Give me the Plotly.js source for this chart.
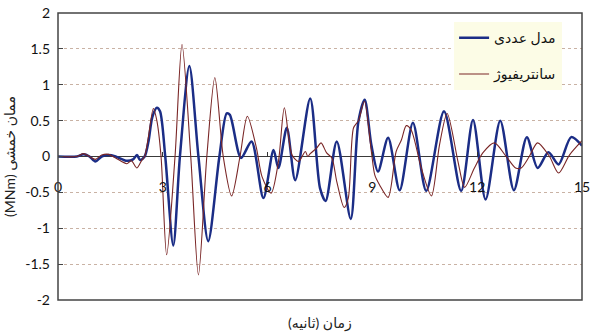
<!DOCTYPE html>
<html><head><meta charset="utf-8">
<script src="https://cdn.plot.ly/plotly-3.0.1.min.js"></script>
<style>body{margin:0;padding:0;background:#fff}#chart{width:590px;height:336px}</style>
</head><body><div id="chart"></div>
<script>
// Numerical model (مدل عددی)
const timeModel = [0, 0.54, 0.73, 0.9, 1.07, 1.25, 1.45, 1.65, 1.97, 2.15, 2.26, 2.35, 2.48, 2.59, 2.70, 2.83, 2.92, 3.07, 3.30, 3.49, 3.76, 4.02, 4.30, 4.62, 4.83, 4.92, 5.24, 5.54, 5.88, 6.17, 6.31, 6.55, 6.79, 7.22, 7.50, 7.66, 7.98, 8.38, 8.60, 8.78, 8.97, 9.16, 9.45, 9.78, 10.16, 10.54, 11.05, 11.54, 11.88, 12.24, 12.66, 13.05, 13.42, 13.73, 14.04, 14.33, 14.69, 15.0];
const momentModel = [0, 0, 0.03, 0.0, -0.07, 0.0, 0.02, 0.0, -0.06, -0.04, 0.02, -0.05, 0.0, 0.21, 0.55, 0.68, 0.63, 0.0, -1.24, 0.0, 1.26, 0.0, -1.18, 0.0, 0.60, 0.58, -0.02, 0.21, -0.58, 0.09, -0.16, 0.40, -0.33, 0.81, -0.44, -0.62, 0.21, -0.87, 0.49, 0.79, 0.16, -0.21, 0.26, -0.47, 0.47, -0.48, 0.63, -0.48, 0.51, -0.60, 0.50, -0.47, 0.27, -0.16, 0.06, -0.11, 0.27, 0.15];

// Centrifuge test (سانتریفیوژ)
const timeCentrifuge = [0, 0.54, 0.73, 0.9, 1.07, 1.25, 1.45, 1.65, 1.97, 2.1, 2.26, 2.40, 2.48, 2.59, 2.73, 2.83, 2.95, 3.11, 3.35, 3.55, 3.80, 4.02, 4.26, 4.49, 4.73, 4.97, 5.21, 5.42, 5.68, 5.84, 6.10, 6.31, 6.48, 6.70, 6.89, 7.08, 7.15, 7.22, 7.41, 7.53, 7.69, 7.84, 7.98, 8.19, 8.31, 8.46, 8.60, 8.77, 8.97, 9.07, 9.21, 9.45, 9.68, 9.83, 9.97, 10.11, 10.40, 10.69, 10.92, 11.14, 11.45, 11.64, 11.92, 12.16, 12.49, 12.83, 13.10, 13.26, 13.49, 13.73, 14.07, 14.33, 14.64, 15.0];
const momentCentrifuge = [0, 0, 0.04, 0.0, -0.04, 0.02, 0.03, -0.02, -0.10, -0.06, -0.16, -0.05, 0.0, 0.28, 0.67, 0.50, 0.0, -1.37, 0.0, 1.56, 0.0, -1.65, 0.0, 1.10, 0.0, -0.55, 0.0, 0.56, 0.12, -0.28, -0.51, -0.07, 0.68, 0.02, -0.07, 0.07, 0.0, 0.04, 0.12, 0.19, 0.05, -0.02, -0.35, -0.71, -0.58, 0.40, 0.50, 0.77, 0.07, -0.26, -0.40, -0.57, 0.07, 0.23, 0.43, 0.37, -0.16, -0.55, 0.16, 0.60, -0.07, -0.43, -0.16, 0.05, 0.19, 0.0, -0.16, -0.16, 0.0, 0.19, 0.0, -0.23, 0.02, 0.22];

const xTicks = [0, 3, 6, 9, 12, 15];
const yTicks = [-2, -1.5, -1, -0.5, 0, 0.5, 1, 1.5, 2];
const yTickLabels = ['-2', '-1.5', '-1', '-0.5', '0', '0.5', '1', '1.5', '2'];
const seriesNames = ['مدل عددی', 'سانتریفیوژ'];
const yTitle = 'ممان خمشی (MNm)';
const xTitle = 'زمان (ثانیه)';

const rtl = s => '\u202B' + s + '\u202C';
const FONT = 'Lato, "DejaVu Sans", sans-serif';

const traces = [
  {x: timeModel, y: momentModel, name: rtl(seriesNames[0]), type: 'scatter', mode: 'lines',
   line: {color: '#1b2d86', width: 2.5, shape: 'spline', smoothing: 0.8}, legendgroup: 'a'},
  {x: timeCentrifuge, y: momentCentrifuge, name: rtl(seriesNames[1]), type: 'scatter', mode: 'lines',
   line: {color: '#7a2626', width: 1.1, shape: 'spline', smoothing: 0.8}, legendgroup: 'b'}
];

const layout = {
  width: 590, height: 336,
  margin: {l: 58, r: 8, t: 13, b: 36},
  paper_bgcolor: '#fff', plot_bgcolor: '#fff',
  font: {family: FONT, color: '#111', size: 14},
  showlegend: true,
  legend: {x: 0.962, xanchor: 'right', y: 0.968, yanchor: 'top', bgcolor: '#fcfce6',
           font: {family: FONT, size: 14, color: '#111'}, traceorder: 'grouped', tracegroupgap: 15, itemwidth: 30},
  xaxis: {range: [0, 15], anchor: 'free', position: 0.5, tickvals: xTicks, ticktext: xTicks.map(String),
          ticks: 'inside', ticklen: 5, tickcolor: '#333', showline: false, showgrid: false, zeroline: false,
          ticklabelstandoff: 20, ticklabeloverflow: 'allow', tickfont: {family: FONT, size: 14, color: '#111'}},
  yaxis: {range: [-2, 2], tickvals: yTicks, ticktext: yTickLabels, ticks: 'inside', ticklen: 5, tickcolor: '#444',
          showgrid: true, gridcolor: '#c9b2a4', griddash: 'dot', gridwidth: 1,
          zeroline: true, zerolinecolor: '#3a3a3a', zerolinewidth: 1.5, showline: false,
          ticklabelstandoff: 7, tickfont: {family: FONT, size: 14, color: '#111'},
          title: {text: rtl(yTitle), font: {family: FONT, size: 14, color: '#222'}, standoff: 6}},
  shapes: [{type: 'rect', xref: 'paper', yref: 'paper', x0: 0, x1: 1, y0: 0, y1: 1,
            line: {color: '#444', width: 1.5}, layer: 'above'}],
  annotations: [{text: rtl(xTitle), xref: 'paper', yref: 'paper', x: 0.5, y: -0.08, yanchor: 'middle',
                 showarrow: false, font: {family: FONT, size: 14, color: '#222'}}]
};

Plotly.newPlot('chart', traces, layout, {displayModeBar: false, staticPlot: true});
</script>
</body></html>
